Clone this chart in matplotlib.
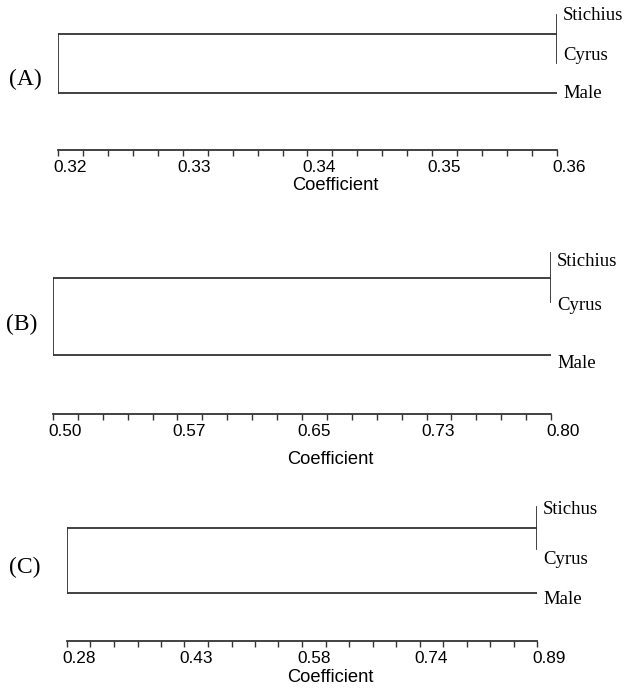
import numpy as np
import matplotlib.pyplot as plt
from matplotlib.transforms import ScaledTranslation

# dendrogram data: leaves, merge levels (pair join, root join), axis tick labels
panel_names = ['(A)', '(B)', '(C)']
leaves_a = ['Stichius', 'Cyrus', 'Male']
leaves_b = ['Stichius', 'Cyrus', 'Male']
leaves_c = ['Stichus', 'Cyrus', 'Male']
merge_a = [0.36, 0.32]
merge_b = [0.80, 0.50]
merge_c = [0.89, 0.28]
ticks_a = ['0.32', '0.33', '0.34', '0.35', '0.36']
ticks_b = ['0.50', '0.57', '0.65', '0.73', '0.80']
ticks_c = ['0.28', '0.43', '0.58', '0.74', '0.89']

W, H = 626, 689
LINE = '#333333'
SERIF = ['Liberation Serif', 'DejaVu Serif']
SANS = ['Liberation Sans', 'DejaVu Sans']
plt.rcParams['font.family'] = SERIF

# layout in pixels: root x, end x, axis y, vertical top, vertical bottom, join y, male y,
# leaf label ys, panel label (x, y), coefficient y
layout = [
    dict(x0=58, x1=557, ax_y=150, vt=15, vb=63, jy=34, my=93, ly=[16, 56, 93], pl=(25, 79), cy=185),
    dict(x0=53, x1=551, ax_y=414, vt=253, vb=302, jy=278, my=355, ly=[261, 306, 363], pl=(22, 324), cy=459),
    dict(x0=67, x1=537, ax_y=641, vt=507, vb=549, jy=528, my=593, ly=[509, 559, 599], pl=(25, 567), cy=677),
]

fig = plt.figure(figsize=(W / 100, H / 100), dpi=100)
dx = lambda px: ScaledTranslation(px / 100, 0, fig.dpi_scale_trans)

for name, leaves, merge, tlabels, lay in zip(panel_names, [leaves_a, leaves_b, leaves_c],
                                             [merge_a, merge_b, merge_c],
                                             [ticks_a, ticks_b, ticks_c], layout):
    top = lay['vt'] - 4
    ax = fig.add_axes([lay['x0'] / W, 1 - lay['ax_y'] / H,
                       (lay['x1'] - lay['x0']) / W, (lay['ax_y'] - top) / H])
    pair, root = merge
    ax.set_xlim(root, pair)
    ax.set_ylim(lay['ax_y'], top)

    # dendrogram branches
    ax.plot([root, root], [lay['jy'], lay['my']], color=LINE, lw=1.3, solid_capstyle='projecting')
    ax.plot([root, pair], [lay['jy'], lay['jy']], color=LINE, lw=1.3)
    ax.plot([root, pair], [lay['my'], lay['my']], color=LINE, lw=1.3)
    ax.plot([pair, pair], [lay['vt'], lay['vb']], color=LINE, lw=1.3)

    for lab, y in zip(leaves, lay['ly']):
        ax.text(pair, y, lab, transform=ax.transData + dx(6), ha='left', va='center', fontsize=13.5)

    # coefficient axis
    for s in ['left', 'right', 'top']:
        ax.spines[s].set_visible(False)
    ax.spines['bottom'].set_color(LINE)
    ax.spines['bottom'].set_linewidth(1.3)
    ax.set_yticks([])
    ax.set_xticks(np.linspace(root, pair, len(tlabels)), tlabels)
    ax.set_xticks(np.linspace(root, pair, 21), minor=True)
    ax.tick_params(axis='x', which='both', direction='out', length=4, width=1, color=LINE, pad=3)
    for t in ax.get_xticklabels():
        t.set_fontfamily(SANS)
        t.set_fontsize(12.4)
        t.set_horizontalalignment('left')
        t.set_transform(t.get_transform() + dx(-5))
    ax.text(0.5, 1 - (lay['cy'] - top) / (lay['ax_y'] - top), 'Coefficient',
            transform=ax.transAxes + dx(-15), ha='left', va='center', fontsize=13.2, family=SANS)

    fig.text(lay['pl'][0] / W, 1 - lay['pl'][1] / H, name, ha='center', va='center', fontsize=17)

fig.savefig('out.png', dpi=100, facecolor='white')
